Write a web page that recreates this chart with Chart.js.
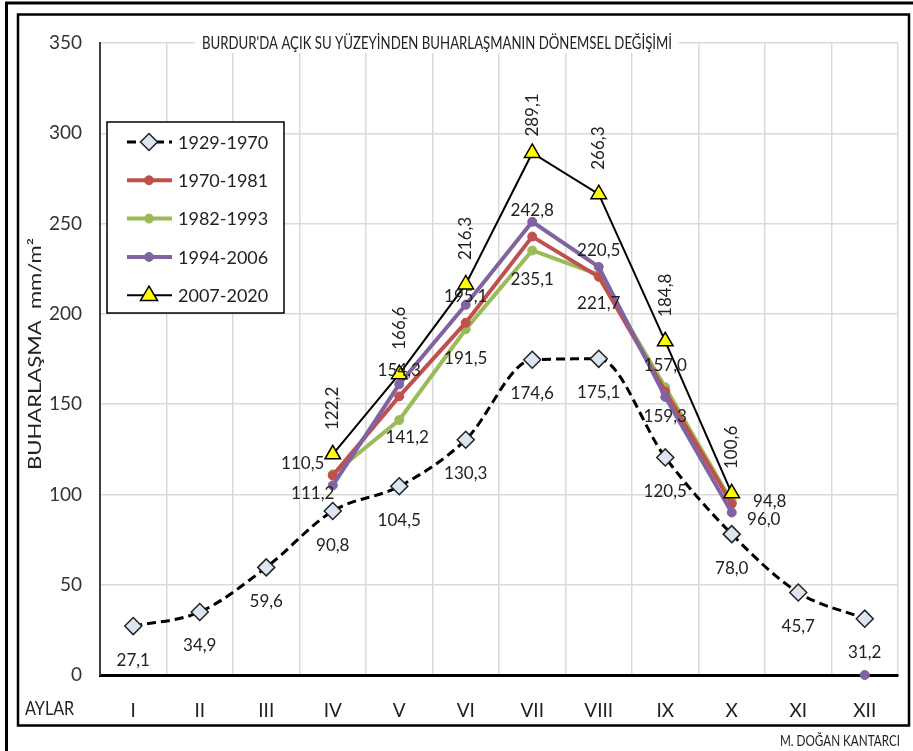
<!DOCTYPE html>
<html>
<head>
<meta charset="utf-8">
<script src="https://cdn.jsdelivr.net/npm/chart.js@4"></script>
<style>
  html, body { margin: 0; padding: 0; background: #fff; overflow: hidden; }
  #wrap { width: 913px; height: 751px; position: relative; }
</style>
</head>
<body>
<div id="wrap"><canvas id="c"></canvas></div>
<script>
const months = ["I", "II", "III", "IV", "V", "VI", "VII", "VIII", "IX", "X", "XI", "XII"];
const seriesNames = ["1929-1970", "1970-1981", "1982-1993", "1994-2006", "2007-2020"];
const p1929 = [27.1, 34.9, 59.6, 90.8, 104.5, 130.3, 174.6, 175.1, 120.5, 78.0, 45.7, 31.2];
const p1970 = [null, null, null, 110.5, 154.3, 195.1, 242.8, 220.5, 157.0, 94.8, null, null];
const p1982 = [null, null, null, 111.2, 141.2, 191.5, 235.1, 221.7, 159.3, 96.0, null, null];
const p1994 = [null, null, null, 105, 161, 205, 251, 226, 154, 90, null, 0];
const p2007 = [null, null, null, 122.2, 166.6, 216.3, 289.1, 266.3, 184.8, 100.6, null, null];
const yTicks = [0, 50, 100, 150, 200, 250, 300, 350];

const titleText = "BURDUR'DA AÇIK SU YÜZEYİNDEN BUHARLAŞMANIN DÖNEMSEL DEĞİŞİMİ";
const yTitle = "BUHARLAŞMA  mm/m²";
const author = "M. DOĞAN KANTARCI";

const FONT = "Lato, 'Liberation Sans', sans-serif";
const RED = "#C0504D", GREEN = "#9BBB59", PURPLE = "#8064A2";

// label placement per series (dx, dy), with a few point overrides
const labelStyle = {
  0: { dx: 0, dy: 34 },
  1: { dx: 0, dy: -26, at: { 3: [-30, -12], 9: [38, -2] } },
  2: { dx: 0, dy: 29, at: { 3: [-20, 19], 4: [8, 17], 9: [32, 18] } },
  4: { rotate: true, dy: -46, at: { 6: [0, -38] } },
};

function fmt(v) {
  return v.toFixed(1).replace(".", ",");
}

const framePlugin = {
  id: "frame",
  beforeDraw(chart) {
    const ctx = chart.ctx;
    ctx.save();
    ctx.fillStyle = "#fff";
    ctx.fillRect(0, 0, chart.width, chart.height);
    ctx.strokeStyle = "#000";
    // outer lines
    ctx.lineWidth = 3;
    ctx.beginPath();
    ctx.moveTo(6.5, 751);
    ctx.lineTo(6.5, 3);
    ctx.lineTo(913, 3);
    ctx.stroke();
    // inner box
    ctx.lineWidth = 2.5;
    ctx.strokeRect(18, 14.5, 891, 711);
    ctx.restore();
  },
  afterDraw(chart) {
    const ctx = chart.ctx;
    ctx.save();
    // title over the top grid line
    ctx.font = "17px " + FONT;
    const tw = ctx.measureText(titleText).width;
    const sx = 470 / tw;
    ctx.fillStyle = "#fff";
    ctx.fillRect(195, 33, 484, 20);
    ctx.fillStyle = "#222";
    ctx.textBaseline = "middle";
    ctx.translate(202, 44);
    ctx.scale(sx, 1);
    ctx.fillText(titleText, 0, 0);
    ctx.restore();

    // y axis title
    ctx.save();
    ctx.font = "17px " + FONT;
    ctx.fillStyle = "#222";
    ctx.textAlign = "center";
    ctx.textBaseline = "middle";
    ctx.translate(36, 354);
    ctx.rotate(-Math.PI / 2);
    const yw = ctx.measureText(yTitle).width;
    ctx.scale(232 / yw, 1);
    ctx.fillText(yTitle, 0, 0);
    ctx.restore();

    // AYLAR + author
    ctx.save();
    ctx.fillStyle = "#222";
    ctx.textBaseline = "middle";
    ctx.font = "19px " + FONT;
    ctx.save();
    ctx.translate(25, 709);
    ctx.scale(0.85, 1);
    ctx.fillText("AYLAR", 0, 0);
    ctx.restore();
    ctx.font = "15px " + FONT;
    const aw = ctx.measureText(author).width;
    ctx.translate(780, 741);
    ctx.scale(120 / aw, 1);
    ctx.fillText(author, 0, 0);
    ctx.restore();

    // legend
    ctx.save();
    ctx.fillStyle = "#fff";
    ctx.fillRect(107, 122, 177, 191);
    ctx.strokeStyle = "#000";
    ctx.lineWidth = 1.5;
    ctx.strokeRect(107, 122, 177, 191);
    chart.data.datasets.forEach((ds, i) => {
      const y = 142 + i * 38.3;
      ctx.save();
      ctx.strokeStyle = ds.borderColor;
      ctx.lineWidth = ds.borderWidth;
      ctx.setLineDash(ds.borderDash || []);
      ctx.beginPath();
      ctx.moveTo(127, y);
      ctx.lineTo(172, y);
      ctx.stroke();
      ctx.setLineDash([]);
      ctx.fillStyle = ds.pointBackgroundColor;
      ctx.strokeStyle = ds.pointBorderColor;
      ctx.lineWidth = ds.pointBorderWidth;
      const r = ds.pointRadius;
      ctx.beginPath();
      if (ds.pointStyle === "rectRot") {
        ctx.moveTo(149, y - r); ctx.lineTo(149 + r, y); ctx.lineTo(149, y + r); ctx.lineTo(149 - r, y); ctx.closePath();
      } else if (ds.pointStyle === "triangle") {
        ctx.moveTo(149, y - r); ctx.lineTo(149 + r * 0.95, y + r * 0.6); ctx.lineTo(149 - r * 0.95, y + r * 0.6); ctx.closePath();
      } else {
        ctx.arc(149, y, r, 0, Math.PI * 2);
      }
      ctx.fill();
      ctx.stroke();
      ctx.restore();
      ctx.fillStyle = "#222";
      ctx.font = "18px " + FONT;
      ctx.textBaseline = "middle";
      ctx.fillText(ds.label, 178, y + 1);
    });
    ctx.restore();
  },
  afterDatasetsDraw(chart) {
    const ctx = chart.ctx;
    ctx.save();
    ctx.font = "17px " + FONT;
    ctx.fillStyle = "#222";
    ctx.textAlign = "center";
    ctx.textBaseline = "middle";
    Object.keys(labelStyle).forEach((k) => {
      const idx = +k;
      const st = labelStyle[idx];
      const meta = chart.getDatasetMeta(idx);
      const data = chart.data.datasets[idx].data;
      meta.data.forEach((pt, j) => {
        const v = data[j];
        if (v === null || v === undefined) return;
        let dx = st.dx || 0, dy = st.dy;
        if (st.at && st.at[j]) { dx = st.at[j][0]; dy = st.at[j][1]; }
        if (st.rotate) {
          ctx.save();
          ctx.translate(pt.x + dx, pt.y + dy);
          ctx.rotate(-Math.PI / 2);
          ctx.fillText(fmt(v), 0, 0);
          ctx.restore();
        } else {
          ctx.fillText(fmt(v), pt.x + dx, pt.y + dy);
        }
      });
    });
    ctx.restore();
  },
};

new Chart(document.getElementById("c"), {
  type: "line",
  data: {
    labels: months,
    datasets: [
      {
        label: seriesNames[0], data: p1929, order: 4,
        borderColor: "#000", borderWidth: 3, borderDash: [9, 5], cubicInterpolationMode: "monotone",
        pointStyle: "rectRot", pointRadius: 8.5, pointBackgroundColor: "#DCE6F2",
        pointBorderColor: "#222", pointBorderWidth: 1.5,
      },
      {
        label: seriesNames[1], data: p1970, order: 2,
        borderColor: RED, borderWidth: 4, pointStyle: "circle", pointRadius: 4.5,
        pointBackgroundColor: RED, pointBorderColor: RED, pointBorderWidth: 1,
      },
      {
        label: seriesNames[2], data: p1982, order: 3,
        borderColor: GREEN, borderWidth: 4, pointStyle: "circle", pointRadius: 4.5,
        pointBackgroundColor: GREEN, pointBorderColor: GREEN, pointBorderWidth: 1,
      },
      {
        label: seriesNames[3], data: p1994, order: 1, clip: false,
        borderColor: PURPLE, borderWidth: 4, pointStyle: "circle", pointRadius: 4.5,
        pointBackgroundColor: PURPLE, pointBorderColor: PURPLE, pointBorderWidth: 1,
      },
      {
        label: seriesNames[4], data: p2007, order: 0,
        borderColor: "#000", borderWidth: 2, pointStyle: "triangle", pointRadius: 9,
        pointBackgroundColor: "#FFFF00", pointBorderColor: "#000", pointBorderWidth: 1.5,
      },
    ],
  },
  options: {
    responsive: true,
    maintainAspectRatio: false,
    devicePixelRatio: 1,
    animation: false,
    spanGaps: false,
    layout: { padding: { left: 0, top: 43, right: 15, bottom: 0 } },
    plugins: {
      legend: { display: false },
      title: { display: false },
      tooltip: { enabled: false },
    },
    scales: {
      x: {
        offset: true,
        grid: { offset: true, color: "#d9d9d9", lineWidth: 1.5, drawTicks: false },
        border: { color: "#000", width: 3 },
        ticks: { color: "#222", font: { family: FONT, size: 19 }, padding: 24, maxRotation: 0 },
        afterFit(scale) { scale.height = 76; },
      },
      y: {
        min: 0, max: 350,
        afterBuildTicks(scale) { scale.ticks = yTicks.map((v) => ({ value: v })); },
        grid: { color: "#d9d9d9", lineWidth: 1.5, drawTicks: false },
        border: { color: "#404040", width: 2 },
        ticks: { color: "#333", font: { family: FONT, size: 19 }, padding: 18 },
        afterFit(scale) { scale.width = 100; },
      },
    },
  },
  plugins: [framePlugin],
});
</script>
</body>
</html>
